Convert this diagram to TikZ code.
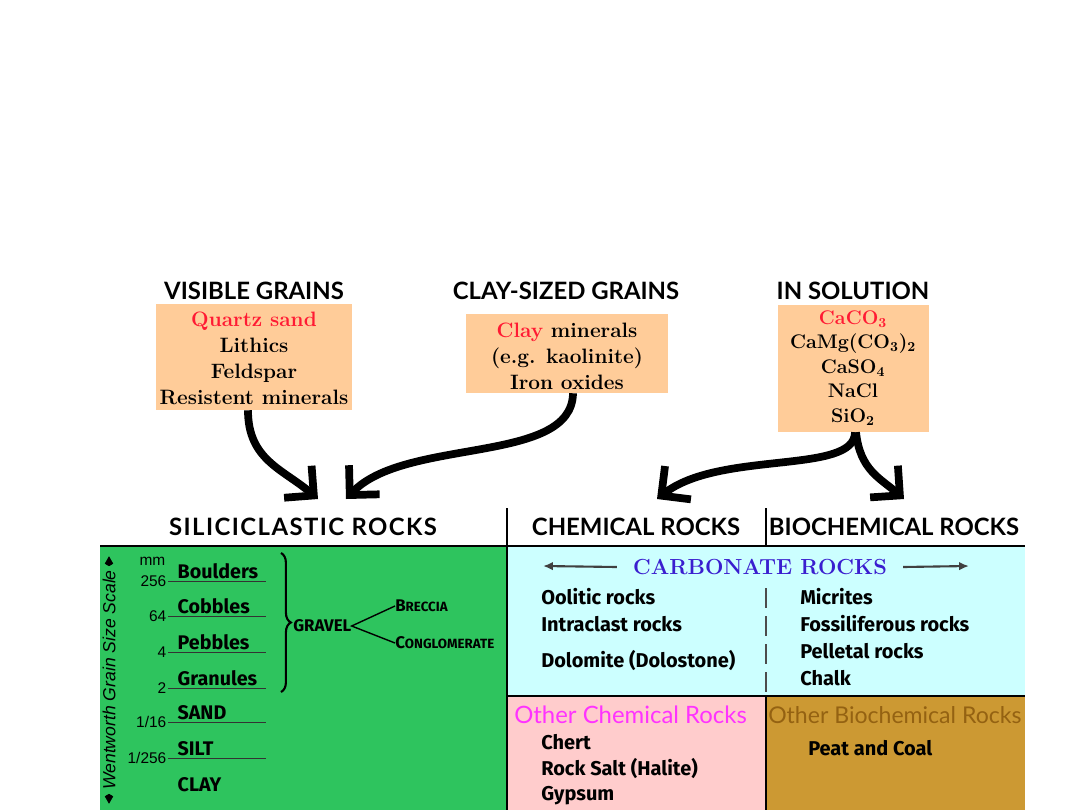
\documentclass[tikz,border=0pt]{standalone}
\usepackage{fontspec}
\usepackage{tikz}
\usetikzlibrary{positioning, arrows.meta, fit, decorations.pathreplacing}
\usepackage{xcolor}
\newfontfamily\headfont{Lato}
\newfontfamily\rockfont{Fira Sans}
\newfontfamily\helvfont{Liberation Sans}
\definecolor{sgpeach}{HTML}{FFCC99}
\definecolor{sgred}{HTML}{FF1A33}
\definecolor{sggreen}{HTML}{2EC45E}
\definecolor{sgcyan}{HTML}{CCFFFF}
\definecolor{sgpink}{HTML}{FFCCCC}
\definecolor{sgbrown}{HTML}{CC9933}
\definecolor{sgmagenta}{HTML}{FF33FF}
\definecolor{sgdkbrown}{HTML}{946212}
\definecolor{sgblue}{HTML}{3A1ECF}

\begin{document}
\begin{tikzpicture}[x=0.025cm, y=-0.025cm,
    head/.style={font=\headfont\bfseries\fontsize{17}{20}\selectfont},
    grains/.style={fill=sgpeach, inner sep=0pt},
    grainlist/.style={align=center, inner sep=0pt,
                   font=\bfseries\fontsize{14.8}{18.5}\selectfont},
    flow/.style={line width=5.5pt, -{Straight Barb[length=15pt,width=30pt]}},
    rock/.style={font=\rockfont\bfseries\fontsize{14.2}{16}\selectfont, anchor=west, inner sep=0pt},
    size/.style={font=\rockfont\bfseries\fontsize{14}{16}\selectfont, anchor=south west, inner sep=1pt},
    mmnum/.style={font=\helvfont\fontsize{11}{12}\selectfont, anchor=east, inner sep=1pt}]
  \useasboundingbox[fill=white] (0,0) rectangle (1080,810);

  % sources
  \node[head] (visHead) at (254,291) {VISIBLE GRAINS};
  \node[head] (clayHead) at (566,291) {CLAY-SIZED GRAINS};
  \node[head] (solHead) at (853,291) {IN SOLUTION};
  \node[grains, fit={(156,304) (352,410)}] (visBox) {};
  \node[grainlist] (visText) at (254,358)
    {\textcolor{sgred}{Quartz sand}\\Lithics\\Feldspar\\Resistent minerals};
  \node[grains, fit={(466,314) (668,393)}] (clayBox) {};
  \node[grainlist] (clayText) at (567,356)
    {\textcolor{sgred}{Clay} minerals\\(e.g. kaolinite)\\Iron oxides};
  \node[grains, fit={(778,305) (929,432)}] (solBox) {};
  \node[grainlist, font=\bfseries\fontsize{14}{17.4}\selectfont] (solText) at (853,368)
    {\textcolor{sgred}{CaCO\textsubscript{3}}\\CaMg(CO\textsubscript{3})\textsubscript{2}\\CaSO\textsubscript{4}\\NaCl\\SiO\textsubscript{2}};

  \coordinate (siliL) at (318,499);
  \coordinate (siliR) at (346,499);
  \coordinate (chemTip) at (657,499);
  \coordinate (bioTip) at (904,499);
  \draw[flow] (248,0 |- visBox.south) .. controls (248,460) and (283,469) .. (siliL);
  \draw[flow] (573,0 |- clayBox.south) .. controls (572,465) and (405,437) .. (siliR);
  \draw[flow] (855,0 |- solBox.south) .. controls (855,475) and (720,450) .. (chemTip);
  \draw[flow] (856,0 |- solBox.south) .. controls (860,470) and (880,478) .. (bioTip);

  % table
  \fill[sggreen] (100,546) rectangle (507,810);
  \fill[sgcyan] (507,546) rectangle (1025,696);
  \fill[sgpink] (507,696) rectangle (766,810);
  \fill[sgbrown] (766,696) rectangle (1025,810);
  \draw[line width=2pt] (100,546) -- (1025,546);
  \draw[line width=1.4pt] (507,508) -- (507,810);
  \draw[line width=1.4pt] (766,508) -- (766,546);
  \draw[line width=1pt] (507,696) -- (1025,696);
  \draw[line width=1pt] (766,696) -- (766,810);
  \draw[line width=0.8pt, dash pattern=on 14pt off 6pt, black!70] (766,588) -- (766,696);

  \node[head, font=\headfont\bfseries\fontsize{17}{20}\selectfont\addfontfeature{LetterSpace=6}] (siliHead) at (303,527) {SILICICLASTIC ROCKS};
  \node[head] (chemHead) at (636,527) {CHEMICAL ROCKS};
  \node[head] (bioHead) at (894,527) {BIOCHEMICAL ROCKS};

  % grain size scale
  \node[font=\helvfont\itshape\fontsize{12.5}{14}\selectfont, rotate=90] (scale) at (109,680) {Wentworth Grain Size Scale};
  \draw[-{Kite[length=7pt,width=6pt]}] (scale.east) -- ++(0,-9);
  \draw[-{Kite[length=7pt,width=6pt]}] (scale.west) -- ++(0,9);
  \node[mmnum] (mm) at (167,561) {mm};
  \foreach \yy/\num/\lab in {581/256/Boulders, 616/64/Cobbles, 652/4/Pebbles, 688/2/Granules, 722/1\slash 16/SAND, 758/1\slash 256/SILT} {
    \draw[black!80, line width=0.6pt] (168,\yy) -- (266,\yy);
    \node[mmnum] at (168,\yy) {\num};
    \node[size] at (176,\yy) {\lab};
  }
  \node[size] (clay) at (176,794) {CLAY};
  \draw[line width=1.5pt, decorate, decoration={brace, amplitude=7pt}] (281,553) -- (281,692);
  \node[rock, font=\rockfont\bfseries\fontsize{12}{14}\selectfont] (gravel) at (293,626) {GRAVEL};
  \node[rock, font=\rockfont\bfseries\fontsize{12}{14}\selectfont] (breccia) at (395,606) {B{\fontsize{9.5}{10}\selectfont RECCIA}};
  \node[rock, font=\rockfont\bfseries\fontsize{12}{14}\selectfont] (congl) at (395,643) {C{\fontsize{9.5}{10}\selectfont ONGLOMERATE}};
  \draw[line width=1pt] (breccia.west) -- (gravel.east) -- (congl.west);

  % carbonate rocks
  \node[font=\bfseries\fontsize{15.5}{18}\selectfont, text=sgblue] (carb) at (760,567) {CARBONATE ROCKS};
  \coordinate (carbL) at (543,566);
  \coordinate (carbR) at (969,566);
  \draw[black!75, line width=1.5pt, -{Latex[length=7pt,width=6pt]}] ([xshift=-8pt]carb.west) -- (carbL);
  \draw[black!75, line width=1.5pt, -{Latex[length=7pt,width=6pt]}] ([xshift=8pt]carb.east) -- (carbR);
  \node[rock] (oolitic) at (541,597) {Oolitic rocks};
  \node[rock] (intra) at (541,624) {Intraclast rocks};
  \node[rock] (dolo) at (541,661) {Dolomite (Dolostone)};
  \node[rock] (micrites) at (800,597) {Micrites};
  \node[rock] (fossil) at (800,624) {Fossiliferous rocks};
  \node[rock] (pellet) at (800,651) {Pelletal rocks};
  \node[rock] (chalk) at (800,678) {Chalk};

  % other rocks
  \node[font=\headfont\fontsize{17}{20}\selectfont, text=sgmagenta, anchor=west, inner sep=0pt] (otherChem) at (514,715) {Other Chemical Rocks};
  \node[rock] (chert) at (541,742) {Chert};
  \node[rock] (salt) at (541,769) {Rock Salt (Halite)};
  \node[rock] (gyps) at (541,796) {Gypsum};
  \node[font=\headfont\fontsize{16.4}{20}\selectfont, text=sgdkbrown, anchor=west, inner sep=0pt] (otherBio) at (768,715) {Other Biochemical Rocks};
  \node[rock] (peat) at (808,748) {Peat and Coal};
\end{tikzpicture}
\end{document}
